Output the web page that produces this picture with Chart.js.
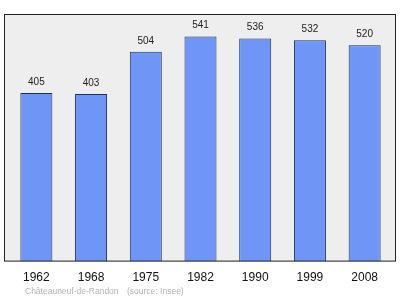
<!DOCTYPE html>
<html>
<head>
<meta charset="utf-8">
<script src="https://cdn.jsdelivr.net/npm/chart.js@4"></script>
<style>
  html, body { margin: 0; padding: 0; background: #fff; }
  #wrap { width: 400px; height: 299px; }
</style>
</head>
<body>
<div id="wrap"><canvas id="popChart" width="400" height="299"></canvas></div>
<script>
const years = ["1962", "1968", "1975", "1982", "1990", "1999", "2008"];
const population = [405, 403, 504, 541, 536, 532, 520];
const footerName = "Châteauneuf-de-Randon";
const footerSource = "(source: Insee)";

// frame is a bit wider than the bar area
const plotDeco = {
    id: "plotDeco",
    beforeDatasetsDraw(chart) {
        const a = chart.chartArea;
        const ctx = chart.ctx;
        ctx.save();
        ctx.fillStyle = "#eeeeee";
        ctx.fillRect(a.left - 5, a.top, a.right - a.left + 9, a.bottom - a.top);
        ctx.restore();
    },
    afterDatasetsDraw(chart) {
        const a = chart.chartArea;
        const ctx = chart.ctx;
        ctx.save();
        ctx.strokeStyle = "#222";
        ctx.lineWidth = 1;
        ctx.strokeRect(a.left - 4.5, a.top + 0.5, a.right - a.left + 8, a.bottom - a.top - 1);

        ctx.fillStyle = "#222";
        ctx.font = "10px 'Liberation Sans', Arial, sans-serif";
        ctx.textAlign = "center";
        ctx.textBaseline = "middle";
        chart.getDatasetMeta(0).data.forEach((bar, i) => {
            ctx.fillText(String(population[i]), bar.x, bar.y - 11);
        });

        ctx.fillStyle = "#b4b4b4";
        ctx.font = "8.5px 'Liberation Sans', Arial, sans-serif";
        ctx.textAlign = "left";
        ctx.fillText(footerName, 25, 292);
        ctx.fillText(footerSource, 127, 292);
        ctx.restore();
    }
};

new Chart(document.getElementById("popChart"), {
    type: "bar",
    data: {
        labels: years,
        datasets: [{
            data: population,
            backgroundColor: "#6f96f6",
            borderColor: "#1e2d55",
            borderWidth: 1,
            borderSkipped: "bottom",
            barPercentage: 0.585,
            categoryPercentage: 1
        }]
    },
    options: {
        responsive: false,
        animation: false,
        layout: { padding: { top: 14, left: 9, right: 8, bottom: 5 } },
        plugins: {
            legend: { display: false },
            tooltip: { enabled: false }
        },
        scales: {
            x: {
                grid: { display: false, drawTicks: false },
                border: { display: false },
                ticks: {
                    color: "#111",
                    padding: 9,
                    font: { family: "'Liberation Sans', Arial, sans-serif", size: 12 }
                }
            },
            y: {
                display: false,
                min: 0,
                max: 595
            }
        }
    },
    plugins: [plotDeco]
});
</script>
</body>
</html>
